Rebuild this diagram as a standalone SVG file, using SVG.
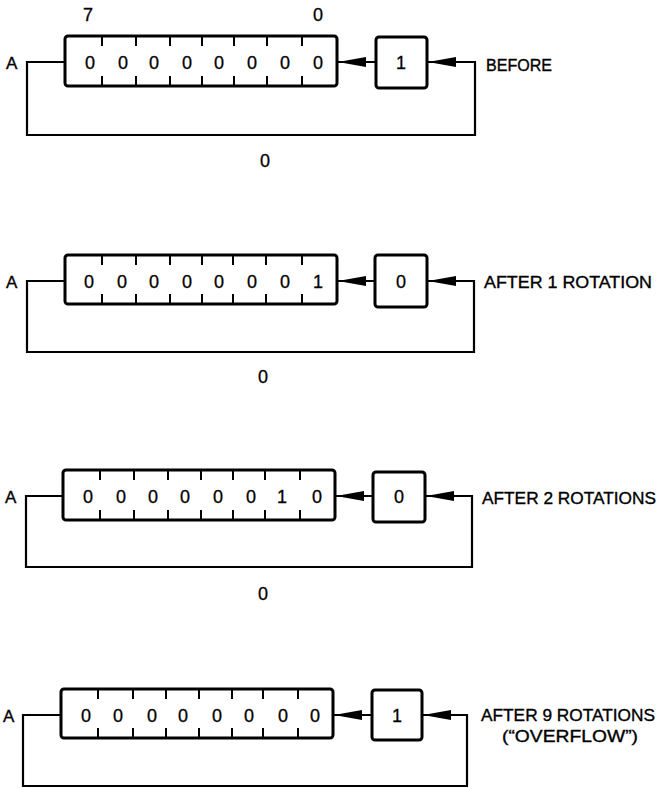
<svg xmlns="http://www.w3.org/2000/svg" width="666" height="789" viewBox="0 0 666 789">
<defs>
<style>
.reg{fill:none;stroke:#000;stroke-width:3}
.tick{stroke:#000;stroke-width:2}
.line{fill:none;stroke:#000;stroke-width:2.2}
.d{font-family:"Liberation Sans",Arial,sans-serif;font-size:18px;fill:#000;stroke:#000;stroke-width:0.3;text-anchor:middle}
.lbl{font-family:"Liberation Sans",Arial,sans-serif;font-size:17px;fill:#000;stroke:#000;stroke-width:0.35}
</style>
<marker id="ah" markerUnits="userSpaceOnUse" markerWidth="28" markerHeight="10" viewBox="0 0 28 10" refX="28" refY="5" orient="auto">
<path d="M0,0 L28,5 L0,10 Z" fill="#000"/>
</marker>
</defs>
<rect width="666" height="789" fill="#fff"/>

<!-- Panel 1 -->
<g id="panel1">
<text class="d" x="88" y="21">7</text>
<text class="d" x="318" y="21">0</text>
<text class="lbl" x="6" y="69" font-size="18">A</text>
<g id="p1-register">
<rect class="reg" x="65" y="36" width="272" height="50" rx="3"/>
<path class="tick" d="M102,36v10M136,36v10M170,36v10M202,36v10M234,36v10M267,36v10M302,36v10M102,86v-10M136,86v-10M170,86v-10M202,86v-10M234,86v-10M267,86v-10M302,86v-10"/>
<text class="d" y="68.5"><tspan x="90">0</tspan><tspan x="123">0</tspan><tspan x="154">0</tspan><tspan x="187">0</tspan><tspan x="219">0</tspan><tspan x="252">0</tspan><tspan x="285">0</tspan><tspan x="318">0</tspan></text>
</g>
<g id="p1-carry">
<rect class="reg" x="376" y="37" width="51" height="51" rx="3"/>
<text class="d" x="401" y="69">1</text>
</g>
<g id="p1-connectors">
<path class="line" d="M376,62 H338" marker-end="url(#ah)"/>
<path class="line" d="M65,62 H27 V135 H475 V62 H428" marker-end="url(#ah)"/>
</g>
<text class="lbl" x="486" y="71" textLength="66" lengthAdjust="spacingAndGlyphs">BEFORE</text>
<text class="d" x="265" y="167">0</text>
</g>

<!-- Panel 2 -->
<g id="panel2">
<text class="lbl" x="6" y="288" font-size="18">A</text>
<g id="p2-register">
<rect class="reg" x="65" y="255" width="272" height="49" rx="3"/>
<path class="tick" d="M102,255v10M136,255v10M170,255v10M202,255v10M233,255v10M266,255v10M302,255v10M102,304v-10M136,304v-10M170,304v-10M202,304v-10M233,304v-10M266,304v-10M302,304v-10"/>
<text class="d" y="287.5"><tspan x="89">0</tspan><tspan x="122">0</tspan><tspan x="154">0</tspan><tspan x="187">0</tspan><tspan x="219">0</tspan><tspan x="252">0</tspan><tspan x="285">0</tspan><tspan x="318">1</tspan></text>
</g>
<g id="p2-carry">
<rect class="reg" x="375" y="255" width="52" height="52" rx="3"/>
<text class="d" x="401" y="288">0</text>
</g>
<g id="p2-connectors">
<path class="line" d="M375,281 H338" marker-end="url(#ah)"/>
<path class="line" d="M65,281 H27 V352 H474 V281 H428" marker-end="url(#ah)"/>
</g>
<text class="lbl" x="484" y="288" textLength="168" lengthAdjust="spacingAndGlyphs">AFTER 1 ROTATION</text>
<text class="d" x="263" y="383">0</text>
</g>

<!-- Panel 3 -->
<g id="panel3">
<text class="lbl" x="5" y="503" font-size="18">A</text>
<g id="p3-register">
<rect class="reg" x="63" y="470" width="272" height="50" rx="3"/>
<path class="tick" d="M100,470v10M134,470v10M168,470v10M201,470v10M233,470v10M265,470v10M300,470v10M100,520v-10M134,520v-10M168,520v-10M201,520v-10M233,520v-10M265,520v-10M300,520v-10"/>
<text class="d" y="502.5"><tspan x="88">0</tspan><tspan x="121">0</tspan><tspan x="153">0</tspan><tspan x="185">0</tspan><tspan x="218">0</tspan><tspan x="251">0</tspan><tspan x="282">1</tspan><tspan x="317">0</tspan></text>
</g>
<g id="p3-carry">
<rect class="reg" x="373" y="472" width="52" height="50" rx="3"/>
<text class="d" x="399" y="503">0</text>
</g>
<g id="p3-connectors">
<path class="line" d="M373,496 H336" marker-end="url(#ah)"/>
<path class="line" d="M63,496 H26 V567 H472 V496 H426" marker-end="url(#ah)"/>
</g>
<text class="lbl" x="482" y="504" textLength="174" lengthAdjust="spacingAndGlyphs">AFTER 2 ROTATIONS</text>
<text class="d" x="263" y="600">0</text>
</g>

<!-- Panel 4 -->
<g id="panel4">
<text class="lbl" x="3" y="722" font-size="18">A</text>
<g id="p4-register">
<rect class="reg" x="61" y="689" width="272" height="49" rx="3"/>
<path class="tick" d="M98,689v10M133,689v10M166,689v10M199,689v10M232,689v10M263,689v10M298,689v10M98,738v-10M133,738v-10M166,738v-10M199,738v-10M232,738v-10M263,738v-10M298,738v-10"/>
<text class="d" y="721.5"><tspan x="86">0</tspan><tspan x="118">0</tspan><tspan x="152">0</tspan><tspan x="183">0</tspan><tspan x="217">0</tspan><tspan x="249">0</tspan><tspan x="283">0</tspan><tspan x="315">0</tspan></text>
</g>
<g id="p4-carry">
<rect class="reg" x="372" y="690" width="50" height="50" rx="3"/>
<text class="d" x="397" y="722">1</text>
</g>
<g id="p4-connectors">
<path class="line" d="M372,715 H334" marker-end="url(#ah)"/>
<path class="line" d="M61,715 H23 V786 H467 V715 H423" marker-end="url(#ah)"/>
</g>
<text class="lbl" x="481" y="721" textLength="174" lengthAdjust="spacingAndGlyphs">AFTER 9 ROTATIONS</text>
<text class="lbl" x="502" y="742" textLength="136" lengthAdjust="spacingAndGlyphs">(“OVERFLOW”)</text>
</g>
</svg>
